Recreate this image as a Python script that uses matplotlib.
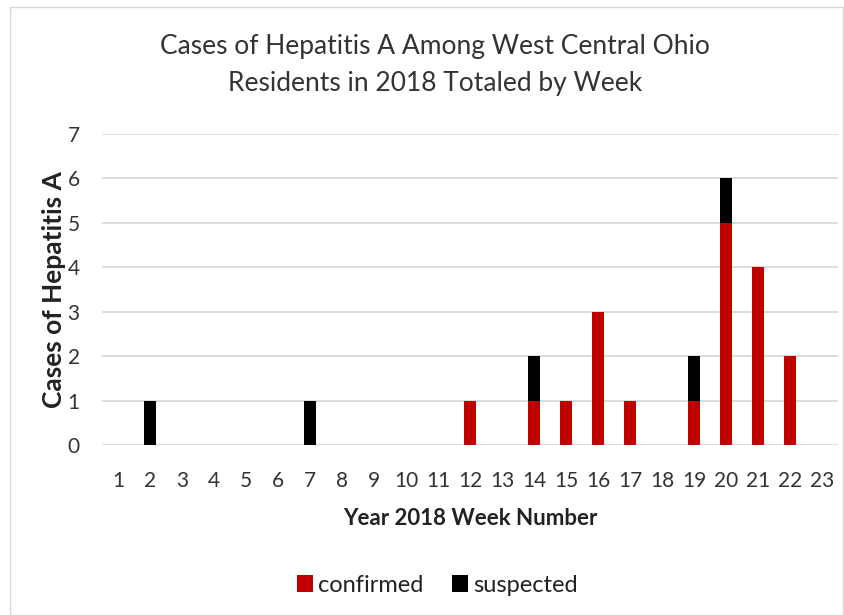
import matplotlib.pyplot as plt
from matplotlib.patches import Rectangle

weeks = list(range(1, 24))
confirmed = [0, 0, 0, 0, 0, 0, 0, 0, 0, 0, 0, 1, 0, 1, 1, 3, 1, 0, 1, 5, 4, 2, 0]
suspected = [0, 1, 0, 0, 0, 0, 1, 0, 0, 0, 0, 0, 0, 1, 0, 0, 0, 0, 1, 1, 0, 0, 0]
y_ticks = list(range(0, 8))

plt.rcParams['font.family'] = ['Lato', 'DejaVu Sans']

fig = plt.figure(figsize=(8.44, 6.15), dpi=100)
ax = fig.add_axes([102 / 844, 1 - 445 / 615, (838 - 102) / 844, (445 - 134) / 615])

ax.bar(weeks, confirmed, width=0.36, color="#C00000", label="confirmed", zorder=3)
ax.bar(weeks, suspected, width=0.36, bottom=confirmed, color="black", label="suspected", zorder=3)

ax.set_xlim(0.5, 23.5)
ax.set_ylim(0, 7)
ax.set_xticks(weeks)
ax.set_yticks(y_ticks)
ax.tick_params(length=0, labelsize=15, colors="#333333")
ax.tick_params(axis="x", pad=19)
ax.tick_params(axis="y", pad=16)
ax.grid(axis="y", color="#D9D9D9", linewidth=1.3, zorder=0)
for s in ax.spines.values():
    s.set_visible(False)

ax.set_xlabel("Year 2018 Week Number", fontsize=16, fontweight="bold", labelpad=12, color="#222222")
ax.set_ylabel("Cases of Hepatitis A", fontsize=19, fontweight="bold", labelpad=1, color="#222222")

fig.text(0.515, 1 - 65 / 615, "Cases of Hepatitis A Among West Central Ohio\nResidents in 2018 Totaled by Week",
         ha="center", va="center", fontsize=19, color="#333333", linespacing=1.6)

fig.legend(loc="center", bbox_to_anchor=(437 / 844, 1 - 585 / 615), ncol=2, frameon=False,
           fontsize=17, handlelength=0.7, handleheight=0.7, handletextpad=0.2, columnspacing=1.2,
           labelcolor="#222222")

fig.patches.append(Rectangle((10 / 844, 0), 833 / 844, 1 - 7 / 615, transform=fig.transFigure,
                             fill=False, edgecolor="#D9D9D9", linewidth=1))

fig.savefig("out.png", dpi=100)
